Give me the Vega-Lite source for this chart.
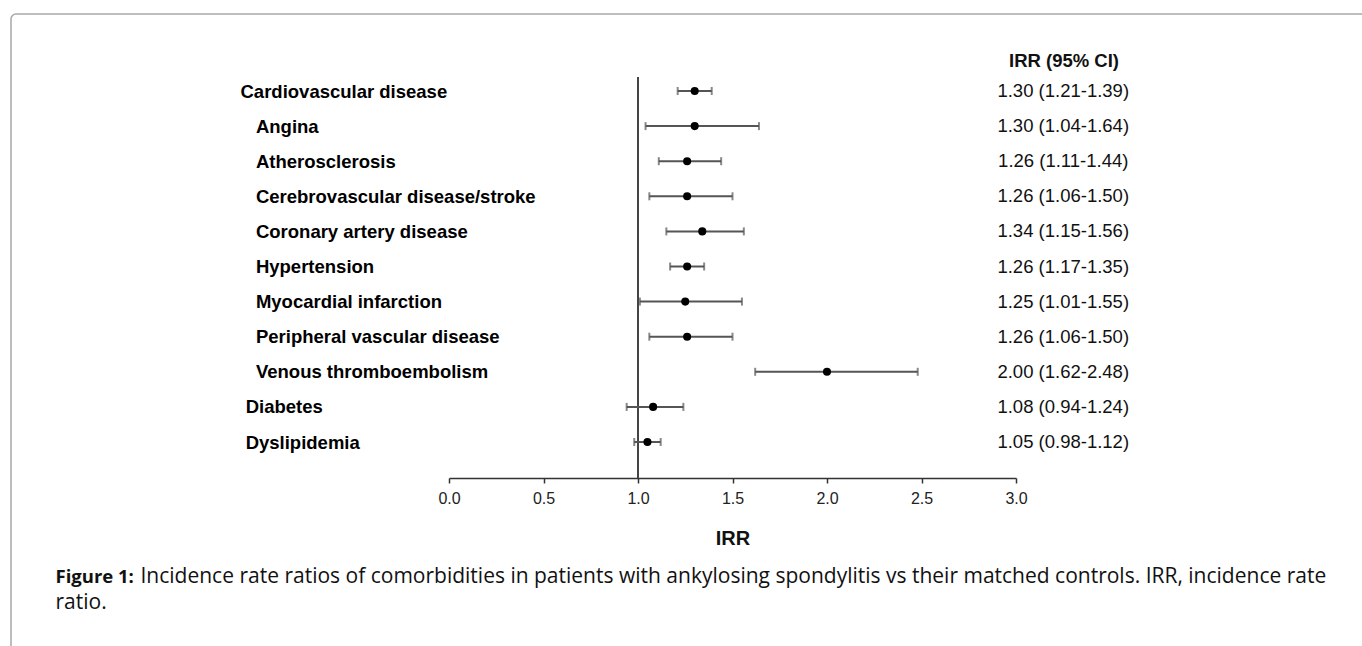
{
  "$schema": "https://vega.github.io/schema/vega-lite/v6.json",
  "autosize": "none",
  "width": 1361,
  "height": 646,
  "padding": {"left": 11, "top": 14, "right": -10, "bottom": -14},
  "background": "white",
  "config": {
    "view": {"stroke": "#a8a8a8", "strokeWidth": 1.5, "cornerRadius": 5, "fill": "white"},
    "font": "Liberation Sans"
  },
  "data": {
    "values": [
      {"label": "Cardiovascular disease", "irr": 1.30, "lo": 1.21, "hi": 1.39, "ci": "1.30 (1.21-1.39)"},
      {"label": "Angina", "irr": 1.30, "lo": 1.04, "hi": 1.64, "ci": "1.30 (1.04-1.64)"},
      {"label": "Atherosclerosis", "irr": 1.26, "lo": 1.11, "hi": 1.44, "ci": "1.26 (1.11-1.44)"},
      {"label": "Cerebrovascular disease/stroke", "irr": 1.26, "lo": 1.06, "hi": 1.50, "ci": "1.26 (1.06-1.50)"},
      {"label": "Coronary artery disease", "irr": 1.34, "lo": 1.15, "hi": 1.56, "ci": "1.34 (1.15-1.56)"},
      {"label": "Hypertension", "irr": 1.26, "lo": 1.17, "hi": 1.35, "ci": "1.26 (1.17-1.35)"},
      {"label": "Myocardial infarction", "irr": 1.25, "lo": 1.01, "hi": 1.55, "ci": "1.25 (1.01-1.55)"},
      {"label": "Peripheral vascular disease", "irr": 1.26, "lo": 1.06, "hi": 1.50, "ci": "1.26 (1.06-1.50)"},
      {"label": "Venous thromboembolism", "irr": 2.00, "lo": 1.62, "hi": 2.48, "ci": "2.00 (1.62-2.48)"},
      {"label": "Diabetes", "irr": 1.08, "lo": 0.94, "hi": 1.24, "ci": "1.08 (0.94-1.24)"},
      {"label": "Dyslipidemia", "irr": 1.05, "lo": 0.98, "hi": 1.12, "ci": "1.05 (0.98-1.12)"}
    ]
  },
  "resolve": {"axis": {"y": "independent"}},
  "layer": [
    {
      "mark": {"type": "rule", "color": "#444444", "strokeWidth": 1, "yOffset": -14, "y2Offset": 36},
      "encoding": {
        "x": {
          "datum": 1,
          "type": "quantitative",
          "scale": {"domain": [0, 3], "range": [438, 1005], "nice": false, "zero": false},
          "axis": {
            "offset": -182,
            "values": [0, 0.5, 1, 1.5, 2, 2.5, 3],
            "format": ".1f",
            "grid": false,
            "domainColor": "#333333",
            "domainWidth": 1.5,
            "tickColor": "#333333",
            "tickWidth": 1.5,
            "tickSize": 5,
            "labelFlush": false,
            "labelFontSize": 16,
            "labelColor": "#222222",
            "labelPadding": 7,
            "title": "IRR",
            "titleFontSize": 20,
            "titleFontWeight": "bold",
            "titleColor": "#111111",
            "titleY": 66,
            "titleBaseline": "alphabetic"
          }
        },
        "y": {
          "datum": "Cardiovascular disease",
          "type": "nominal",
          "scale": {
            "type": "point",
            "domain": ["Cardiovascular disease", "Angina", "Atherosclerosis", "Cerebrovascular disease/stroke", "Coronary artery disease", "Hypertension", "Myocardial infarction", "Peripheral vascular disease", "Venous thromboembolism", "Diabetes", "Dyslipidemia"],
            "range": [77, 428],
            "padding": 0
          },
          "axis": null
        },
        "y2": {"datum": "Dyslipidemia"}
      }
    },
    {
      "mark": {"type": "rule", "color": "#555555", "strokeWidth": 2},
      "encoding": {
        "y": {
          "field": "label",
          "type": "nominal",
          "sort": null,
          "axis": {
            "orient": "left",
            "domain": false,
            "ticks": false,
            "tickSize": 0,
            "labelAlign": "left",
            "labelBaseline": "middle",
            "labelPadding": -229,
            "labelFontSize": 18.5,
            "labelFontWeight": "bold",
            "labelColor": "#000000",
            "labelLimit": 0,
            "labelOverlap": false,
            "labelExpr": "datum.value == 'Cardiovascular disease' ? datum.value : (datum.value == 'Diabetes' || datum.value == 'Dyslipidemia' ? '\u200b\u00a0' + datum.value : '\u200b\u00a0\u00a0\u00a0' + datum.value)",
            "title": "Figure 1:",
            "titleAngle": 0,
            "titleAlign": "left",
            "titleBaseline": "alphabetic",
            "titleX": 44,
            "titleY": 568,
            "titleFont": "Open Sans",
            "titleFontSize": 18.5,
            "titleFontWeight": "bold",
            "titleColor": "#111111"
          }
        },
        "x": {"field": "lo", "type": "quantitative"},
        "x2": {"field": "hi"}
      }
    },
    {
      "mark": {"type": "tick", "color": "#555555", "thickness": 2, "size": 8, "orient": "vertical"},
      "encoding": {
        "y": {
          "field": "label",
          "type": "nominal",
          "sort": null,
          "axis": {
            "orient": "left",
            "labels": false,
            "ticks": false,
            "domain": false,
            "title": "Incidence rate ratios of comorbidities in patients with ankylosing spondylitis vs their matched controls. IRR, incidence rate",
            "titleAngle": 0,
            "titleAlign": "left",
            "titleBaseline": "alphabetic",
            "titleX": 129,
            "titleY": 568,
            "titleLimit": 0,
            "titleFont": "Open Sans",
            "titleFontSize": 21,
            "titleFontWeight": "normal",
            "titleColor": "#111111"
          }
        },
        "x": {"field": "lo", "type": "quantitative"}
      }
    },
    {
      "mark": {"type": "tick", "color": "#555555", "thickness": 2, "size": 8, "orient": "vertical"},
      "encoding": {
        "y": {
          "field": "label",
          "type": "nominal",
          "sort": null,
          "axis": {
            "orient": "left",
            "labels": false,
            "ticks": false,
            "domain": false,
            "title": "ratio.",
            "titleAngle": 0,
            "titleAlign": "left",
            "titleBaseline": "alphabetic",
            "titleX": 44,
            "titleY": 594,
            "titleFont": "Open Sans",
            "titleFontSize": 21,
            "titleFontWeight": "normal",
            "titleColor": "#111111"
          }
        },
        "x": {"field": "hi", "type": "quantitative"}
      }
    },
    {
      "mark": {"type": "point", "filled": true, "color": "#000000", "size": 65, "opacity": 1},
      "encoding": {
        "y": {"field": "label", "type": "nominal", "sort": null, "axis": null},
        "x": {"field": "irr", "type": "quantitative"}
      }
    },
    {
      "mark": {"type": "text", "fontSize": 18.5, "color": "#111111", "align": "center", "baseline": "middle"},
      "encoding": {
        "y": {
          "field": "label",
          "type": "nominal",
          "sort": null,
          "axis": {
            "orient": "right",
            "labels": false,
            "ticks": false,
            "domain": false,
            "title": "IRR (95% CI)",
            "titleAngle": 0,
            "titleAlign": "center",
            "titleBaseline": "alphabetic",
            "titleX": -308.5,
            "titleY": 52,
            "titleFontSize": 18.5,
            "titleFontWeight": "bold",
            "titleColor": "#111111"
          }
        },
        "x": {"datum": 3.25, "type": "quantitative"},
        "text": {"field": "ci"}
      }
    }
  ]
}
